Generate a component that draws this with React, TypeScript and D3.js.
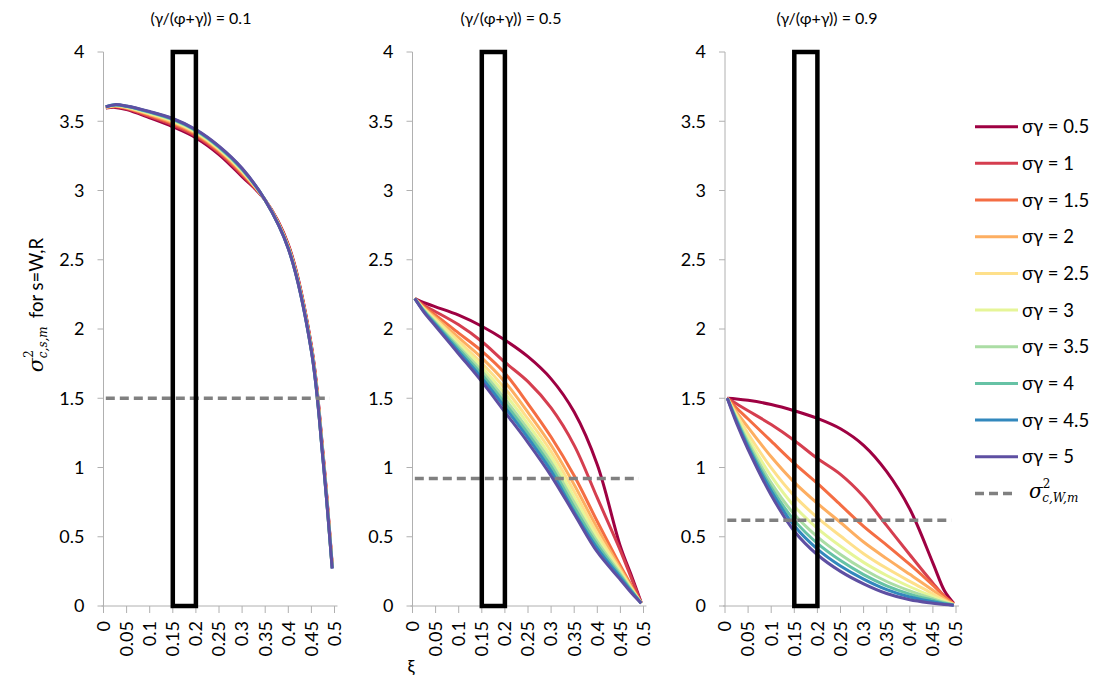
import React from 'react';
import * as d3 from 'd3';

// ξ grid on which every curve is sampled
const xi = [0.005, 0.025, 0.05, 0.1, 0.15, 0.2, 0.25, 0.3, 0.35, 0.4, 0.45, 0.475, 0.495];

const sigmaGamma = ['0.5', '1', '1.5', '2', '2.5', '3', '3.5', '4', '4.5', '5'];
const seriesColors = ['#9e0142', '#d53e4f', '#f46d43', '#fdae61', '#fee08b', '#e6f598', '#abdda4', '#66c2a5', '#3288bd', '#5e4fa2'];

const panelTitles = ['(γ/(φ+γ)) = 0.1', '(γ/(φ+γ)) = 0.5', '(γ/(φ+γ)) = 0.9'];
// σ²_{c,W,m} reference level in each panel
const wageVariance = [1.5, 0.92, 0.62];
// highlighted ξ interval
const band = [0.15, 0.2];

const yTicks = [0, 0.5, 1, 1.5, 2, 2.5, 3, 3.5, 4];
const yTickLabels = ['0', '0.5', '1', '1.5', '2', '2.5', '3', '3.5', '4'];
const xTicks = [0, 0.05, 0.1, 0.15, 0.2, 0.25, 0.3, 0.35, 0.4, 0.45, 0.5];
const xTickLabels = ['0', '0.05', '0.1', '0.15', '0.2', '0.25', '0.3', '0.35', '0.4', '0.45', '0.5'];

// rows: σγ = 0.5 … 5
const panelLow = [
  [3.595, 3.60, 3.585, 3.525, 3.46, 3.38, 3.26, 3.10, 2.93, 2.61, 1.88, 1.11, 0.30],
  [3.597, 3.604, 3.59, 3.534, 3.472, 3.392, 3.272, 3.112, 2.93, 2.604, 1.872, 1.10, 0.294],
  [3.599, 3.608, 3.595, 3.542, 3.483, 3.403, 3.283, 3.123, 2.93, 2.599, 1.865, 1.091, 0.289],
  [3.60, 3.611, 3.598, 3.549, 3.492, 3.412, 3.292, 3.132, 2.93, 2.594, 1.859, 1.084, 0.284],
  [3.602, 3.613, 3.601, 3.554, 3.499, 3.419, 3.299, 3.139, 2.93, 2.591, 1.854, 1.078, 0.28],
  [3.603, 3.615, 3.604, 3.559, 3.505, 3.425, 3.305, 3.145, 2.93, 2.588, 1.85, 1.073, 0.278],
  [3.603, 3.617, 3.606, 3.562, 3.51, 3.43, 3.31, 3.15, 2.93, 2.585, 1.847, 1.069, 0.275],
  [3.604, 3.618, 3.608, 3.566, 3.514, 3.434, 3.314, 3.154, 2.93, 2.583, 1.844, 1.065, 0.273],
  [3.605, 3.619, 3.609, 3.568, 3.517, 3.437, 3.317, 3.157, 2.93, 2.582, 1.842, 1.063, 0.272],
  [3.605, 3.62, 3.61, 3.57, 3.52, 3.44, 3.32, 3.16, 2.93, 2.58, 1.84, 1.06, 0.27],
];

const panelMid = [
  [2.22, 2.19, 2.16, 2.10, 2.02, 1.92, 1.80, 1.64, 1.40, 1.02, 0.43, 0.21, 0.025],
  [2.22, 2.17, 2.125, 2.03, 1.91, 1.76, 1.62, 1.43, 1.16, 0.78, 0.40, 0.19, 0.022],
  [2.22, 2.16, 2.10, 1.97, 1.84, 1.68, 1.46, 1.22, 0.94, 0.61, 0.29, 0.14, 0.02],
  [2.22, 2.15, 2.082, 1.937, 1.792, 1.618, 1.398, 1.161, 0.876, 0.562, 0.27, 0.13, 0.02],
  [2.22, 2.145, 2.069, 1.911, 1.754, 1.571, 1.351, 1.115, 0.827, 0.524, 0.255, 0.122, 0.02],
  [2.22, 2.14, 2.058, 1.89, 1.723, 1.532, 1.312, 1.075, 0.784, 0.493, 0.242, 0.116, 0.02],
  [2.22, 2.135, 2.047, 1.871, 1.695, 1.495, 1.275, 1.038, 0.747, 0.465, 0.231, 0.11, 0.02],
  [2.22, 2.13, 2.038, 1.855, 1.671, 1.464, 1.244, 1.006, 0.713, 0.441, 0.219, 0.105, 0.02],
  [2.22, 2.125, 2.03, 1.838, 1.646, 1.434, 1.214, 0.975, 0.68, 0.416, 0.205, 0.1, 0.02],
  [2.22, 2.12, 2.02, 1.82, 1.62, 1.40, 1.18, 0.94, 0.665, 0.39, 0.19, 0.09, 0.02],
];

const panelHigh = [
  [1.50, 1.495, 1.485, 1.455, 1.41, 1.355, 1.28, 1.16, 0.97, 0.70, 0.31, 0.11, 0.02],
  [1.50, 1.46, 1.41, 1.31, 1.195, 1.065, 0.95, 0.79, 0.58, 0.37, 0.165, 0.07, 0.015],
  [1.50, 1.43, 1.35, 1.19, 1.03, 0.885, 0.73, 0.575, 0.44, 0.30, 0.15, 0.07, 0.015],
  [1.50, 1.40, 1.29, 1.077, 0.893, 0.741, 0.603, 0.462, 0.342, 0.229, 0.114, 0.053, 0.012],
  [1.50, 1.38, 1.244, 0.997, 0.795, 0.638, 0.505, 0.378, 0.272, 0.178, 0.088, 0.041, 0.01],
  [1.50, 1.365, 1.211, 0.938, 0.721, 0.561, 0.431, 0.315, 0.22, 0.139, 0.068, 0.032, 0.009],
  [1.50, 1.355, 1.185, 0.889, 0.662, 0.499, 0.372, 0.265, 0.177, 0.109, 0.052, 0.025, 0.008],
  [1.50, 1.345, 1.165, 0.855, 0.618, 0.452, 0.328, 0.227, 0.146, 0.086, 0.041, 0.02, 0.007],
  [1.50, 1.335, 1.148, 0.83, 0.579, 0.411, 0.289, 0.194, 0.118, 0.065, 0.03, 0.015, 0.006],
  [1.50, 1.32, 1.13, 0.80, 0.54, 0.37, 0.25, 0.16, 0.09, 0.045, 0.02, 0.01, 0.005],
];

const panels = [panelLow, panelMid, panelHigh];

const W = 1098;
const H = 683;
const panelLeft = [103.5, 412.5, 725];
const plotW = 231;
const titleX = [201, 511, 827];
const axisColor = '#b0b0b0';
const font = 'Lato, "Noto Sans", sans-serif';
const mathFont = '"DejaVu Serif", "Liberation Serif", serif';

const y = d3.scaleLinear().domain([0, 4]).range([606, 52]);

function Panel({ idx }: { idx: number }) {
  const x = d3.scaleLinear().domain([0, 0.5]).range([panelLeft[idx], panelLeft[idx] + plotW]);
  const line = d3
    .line<number>()
    .x((_, i) => x(xi[i]))
    .y((d) => y(d))
    .curve(d3.curveCatmullRom.alpha(0.5));
  const rows = panels[idx];
  const x0 = x(0);
  return (
    <g>
      <text x={titleX[idx]} y={24} textAnchor="middle" fontSize={16} fontFamily={font} fill="#000">
        {panelTitles[idx]}
      </text>
      {/* y axis */}
      <line x1={x0} x2={x0} y1={y(0)} y2={y(4)} stroke={axisColor} strokeWidth={1} />
      {yTicks.map((t, i) => (
        <g key={`y${i}`}>
          <line x1={x0 - 6} x2={x0} y1={y(t)} y2={y(t)} stroke={axisColor} strokeWidth={1} />
          <text x={x0 - 19} y={y(t)} dy="0.35em" textAnchor="end" fontSize={18} fontFamily={font} fill="#000">
            {yTickLabels[i]}
          </text>
        </g>
      ))}
      {/* x axis */}
      <line x1={x0 - 2} x2={x(0.5) + 3} y1={y(0)} y2={y(0)} stroke={axisColor} strokeWidth={1} />
      {xTicks.map((t, i) => (
        <g key={`x${i}`}>
          <line x1={x(t)} x2={x(t)} y1={y(0)} y2={y(0) + 7} stroke={axisColor} strokeWidth={1} />
          <text
            transform={`translate(${x(t)},${y(0) + 15}) rotate(-90)`}
            dy="0.35em"
            textAnchor="end"
            fontSize={18}
            fontFamily={font}
            fill="#000"
          >
            {xTickLabels[i]}
          </text>
        </g>
      ))}
      {/* σγ curves */}
      {rows.map((r, k) => (
        <path key={`s${k}`} d={line(r) || ''} fill="none" stroke={seriesColors[k]} strokeWidth={3} strokeLinejoin="round" />
      ))}
      {/* reference level */}
      <line
        x1={x(0.005)}
        x2={x(0.49)}
        y1={y(wageVariance[idx])}
        y2={y(wageVariance[idx])}
        stroke="#808080"
        strokeWidth={3.5}
        strokeDasharray="9,5"
      />
      {/* highlighted ξ interval */}
      <rect
        x={x(band[0])}
        y={y(4)}
        width={x(band[1]) - x(band[0])}
        height={y(0) - y(4)}
        fill="none"
        stroke="#000"
        strokeWidth={4.5}
      />
    </g>
  );
}

function Legend() {
  const rowY = (i: number) => 126.7 + i * 36.67;
  return (
    <g>
      {sigmaGamma.map((s, i) => (
        <g key={s}>
          <line x1={975} x2={1018} y1={rowY(i)} y2={rowY(i)} stroke={seriesColors[i]} strokeWidth={3} />
          <text x={1022} y={rowY(i)} dy="0.35em" fontSize={18.5} fontFamily={font} fill="#000">
            {`σγ = ${s}`}
          </text>
        </g>
      ))}
      <line x1={975} x2={1014} y1={rowY(10)} y2={rowY(10)} stroke="#808080" strokeWidth={3.5} strokeDasharray="9,5" />
      <text x={1029} y={rowY(10) + 5} fill="#000" fontFamily={mathFont}>
        <tspan fontStyle="italic" fontSize={20}>σ</tspan>
        <tspan fontSize={12} dy={-10}>2</tspan>
        <tspan fontStyle="italic" fontSize={12} dx={-8} dy={14}>c,W,m</tspan>
      </text>
    </g>
  );
}

export default function App() {
  return (
    <div style={{ position: 'absolute', left: 0, top: 0 }}>
      <svg width={W} height={H} viewBox={`0 0 ${W} ${H}`} style={{ display: 'block', background: '#fff' }}>
        <rect x={0} y={0} width={W} height={H} fill="#fff" />
        {[0, 1, 2].map((i) => (
          <Panel key={i} idx={i} />
        ))}
        <Legend />
        {/* shared axis titles */}
        <text transform="translate(43,305) rotate(-90)" textAnchor="middle" fill="#000" fontFamily={font} fontSize={18.5}>
          <tspan fontFamily={mathFont} fontStyle="italic" fontSize={21}>σ</tspan>
          <tspan fontFamily={mathFont} fontSize={12} dy={-10}>2</tspan>
          <tspan fontFamily={mathFont} fontStyle="italic" fontSize={12} dx={-8} dy={14}>c,s,m</tspan>
          <tspan dx={8} dy={-4}>for s=W,R</tspan>
        </text>
        <text x={411} y={673} textAnchor="middle" fontSize={18} fontFamily={font} fill="#000">
          ξ
        </text>
      </svg>
    </div>
  );
}
